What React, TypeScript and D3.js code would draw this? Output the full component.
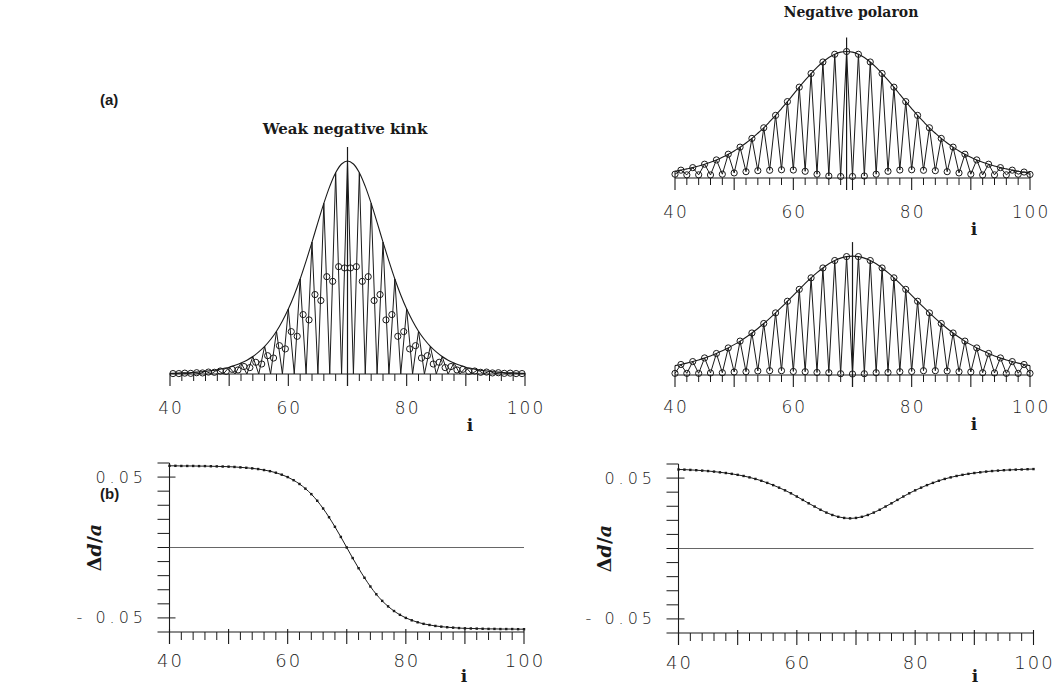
import { useEffect, useRef } from "react";
import * as d3 from "d3";

// lattice sites and bond mid-points
const SITES = d3.range(40, 101);
const BONDS = d3.range(40.5, 100, 1);

// (a) weak negative kink, charge density (arb. units, peak = 1)
const kinkEnvelope = [
  0.003, 0.004, 0.005, 0.006, 0.008, 0.010, 0.013, 0.016, 0.020, 0.026, 0.032,
  0.041, 0.052, 0.065, 0.082, 0.104, 0.130, 0.162, 0.201, 0.249, 0.305, 0.371,
  0.446, 0.530, 0.619, 0.712, 0.801, 0.881, 0.945, 0.986, 1.000, 0.986, 0.945,
  0.881, 0.801, 0.712, 0.619, 0.530, 0.446, 0.371, 0.305, 0.249, 0.201, 0.162,
  0.130, 0.104, 0.082, 0.065, 0.052, 0.041, 0.032, 0.026, 0.020, 0.016, 0.013,
  0.010, 0.008, 0.006, 0.005, 0.004, 0.003
];
const kinkSites = [
  0.003, 0.001, 0.005, 0.001, 0.008, 0.001, 0.013, 0.001, 0.020, 0.000, 0.032,
  0.000, 0.052, 0.000, 0.082, 0.000, 0.130, 0.000, 0.201, 0.000, 0.305, 0.000,
  0.446, 0.000, 0.619, 0.000, 0.801, 0.000, 0.945, 0.000, 1.000, 0.000, 0.945,
  0.000, 0.801, 0.000, 0.619, 0.000, 0.446, 0.000, 0.305, 0.000, 0.201, 0.000,
  0.130, 0.000, 0.082, 0.000, 0.052, 0.000, 0.032, 0.000, 0.020, 0.001, 0.013,
  0.001, 0.008, 0.001, 0.005, 0.001, 0.003
];
const kinkBondValues = [
  0.002, 0.002, 0.004, 0.003, 0.006, 0.005, 0.009, 0.008, 0.014, 0.012, 0.022,
  0.019, 0.035, 0.030, 0.055, 0.047, 0.086, 0.075, 0.133, 0.118, 0.199, 0.177,
  0.279, 0.254, 0.373, 0.345, 0.457, 0.435, 0.504, 0.498, 0.498, 0.504, 0.435,
  0.457, 0.345, 0.373, 0.254, 0.279, 0.177, 0.199, 0.118, 0.133, 0.075, 0.086,
  0.047, 0.055, 0.030, 0.035, 0.019, 0.022, 0.012, 0.014, 0.008, 0.009, 0.005,
  0.006, 0.003, 0.004, 0.002, 0.002
];

// (a) negative polaron, upper panel
const polaronEnvelope = [
  0.054, 0.062, 0.072, 0.082, 0.095, 0.109, 0.125, 0.143, 0.164, 0.188, 0.214,
  0.244, 0.277, 0.313, 0.354, 0.397, 0.445, 0.495, 0.549, 0.604, 0.661, 0.718,
  0.773, 0.826, 0.875, 0.917, 0.952, 0.978, 0.995, 1.000, 0.995, 0.978, 0.952,
  0.917, 0.875, 0.826, 0.773, 0.718, 0.661, 0.604, 0.549, 0.495, 0.445, 0.397,
  0.354, 0.313, 0.277, 0.244, 0.214, 0.188, 0.164, 0.143, 0.125, 0.109, 0.095,
  0.082, 0.072, 0.062, 0.054, 0.047, 0.041
];
const polaronSites = [
  0.030, 0.062, 0.025, 0.082, 0.025, 0.109, 0.024, 0.143, 0.030, 0.188, 0.040,
  0.244, 0.050, 0.313, 0.058, 0.397, 0.061, 0.495, 0.065, 0.604, 0.063, 0.718,
  0.053, 0.826, 0.030, 0.917, 0.016, 0.978, 0.012, 1.000, 0.012, 0.978, 0.016,
  0.917, 0.030, 0.826, 0.053, 0.718, 0.063, 0.604, 0.065, 0.495, 0.061, 0.397,
  0.058, 0.313, 0.050, 0.244, 0.040, 0.188, 0.030, 0.143, 0.024, 0.109, 0.025,
  0.082, 0.025, 0.062, 0.030, 0.047, 0.028
];

// (a) negative polaron, lower panel
const polaron2Envelope = [
  0.074, 0.083, 0.094, 0.106, 0.119, 0.135, 0.151, 0.170, 0.191, 0.214, 0.240,
  0.268, 0.299, 0.332, 0.368, 0.407, 0.448, 0.491, 0.536, 0.583, 0.630, 0.677,
  0.724, 0.768, 0.809, 0.846, 0.879, 0.905, 0.924, 0.936, 0.940, 0.936, 0.924,
  0.905, 0.879, 0.846, 0.809, 0.768, 0.724, 0.677, 0.630, 0.583, 0.536, 0.491,
  0.448, 0.407, 0.368, 0.332, 0.299, 0.268, 0.240, 0.214, 0.191, 0.170, 0.151,
  0.135, 0.119, 0.106, 0.094, 0.083, 0.074
];
const polaron2Sites = [
  0.013, 0.083, 0.013, 0.106, 0.013, 0.135, 0.016, 0.170, 0.018, 0.214, 0.024,
  0.268, 0.026, 0.332, 0.032, 0.407, 0.034, 0.491, 0.034, 0.583, 0.028, 0.677,
  0.026, 0.768, 0.020, 0.846, 0.018, 0.905, 0.010, 0.936, 0.008, 0.936, 0.010,
  0.905, 0.018, 0.846, 0.020, 0.768, 0.026, 0.677, 0.028, 0.583, 0.034, 0.491,
  0.034, 0.407, 0.032, 0.332, 0.026, 0.268, 0.024, 0.214, 0.018, 0.170, 0.016,
  0.135, 0.013, 0.106, 0.013, 0.083, 0.013
];

// (b) lattice dimerization  Δd/a
const kinkDimer = [
  0.0580, 0.0580, 0.0579, 0.0579, 0.0579, 0.0578, 0.0578, 0.0577, 0.0576, 0.0575,
  0.0574, 0.0572, 0.0569, 0.0566, 0.0562, 0.0557, 0.0550, 0.0542, 0.0531, 0.0517,
  0.0500, 0.0478, 0.0451, 0.0418, 0.0379, 0.0332, 0.0277, 0.0215, 0.0147, 0.0075,
  0.0000, -0.0075, -0.0147, -0.0215, -0.0277, -0.0332, -0.0379, -0.0418, -0.0451,
  -0.0478, -0.0500, -0.0517, -0.0531, -0.0542, -0.0550, -0.0557, -0.0562, -0.0566,
  -0.0569, -0.0572, -0.0574, -0.0575, -0.0576, -0.0577, -0.0578, -0.0578, -0.0579,
  -0.0579, -0.0579, -0.0580, -0.0580
];
const polaronDimer = [
  0.0561, 0.0560, 0.0558, 0.0556, 0.0553, 0.0550, 0.0546, 0.0541, 0.0536, 0.0530,
  0.0523, 0.0515, 0.0505, 0.0494, 0.0481, 0.0466, 0.0450, 0.0432, 0.0413, 0.0392,
  0.0369, 0.0345, 0.0321, 0.0298, 0.0275, 0.0255, 0.0238, 0.0225, 0.0217, 0.0214,
  0.0217, 0.0225, 0.0238, 0.0255, 0.0275, 0.0298, 0.0321, 0.0345, 0.0369, 0.0392,
  0.0413, 0.0432, 0.0450, 0.0466, 0.0481, 0.0494, 0.0505, 0.0515, 0.0523, 0.0530,
  0.0536, 0.0541, 0.0546, 0.0550, 0.0553, 0.0556, 0.0558, 0.0560, 0.0561, 0.0563,
  0.0564
];

const X_MINOR = d3.range(40, 101, 2);
const X_MAJOR = [40, 50, 60, 70, 80, 90, 100];
const X_LABELS = [40, 60, 80, 100];
const Y_TICKS = [-0.06, -0.05, -0.04, -0.03, -0.02, -0.01, 0, 0.01, 0.02, 0.03, 0.04, 0.05, 0.06];
const Y_LABELS = [0.05, -0.05];

const INK = "#1a1a1a";
const NUM_FONT = "'DejaVu Sans', sans-serif";
const SERIF = "'DejaVu Serif', serif";

type Sel = d3.Selection<SVGGElement, unknown, null, undefined>;

function xAxisTicks(g: Sel, x: d3.ScaleLinear<number, number>, base: number, minor: number, majUp: number, majDown: number) {
  g.append("line")
    .attr("x1", x(40)).attr("x2", x(100))
    .attr("y1", base).attr("y2", base)
    .attr("stroke", INK).attr("stroke-width", 1.1);
  g.selectAll(null).data(X_MINOR.filter(t => !X_MAJOR.includes(t))).enter().append("line")
    .attr("x1", d => x(d)).attr("x2", d => x(d))
    .attr("y1", base).attr("y2", base + minor)
    .attr("stroke", INK).attr("stroke-width", 1);
  g.selectAll(null).data(X_MAJOR).enter().append("line")
    .attr("x1", d => x(d)).attr("x2", d => x(d))
    .attr("y1", base - majUp).attr("y2", base + majDown)
    .attr("stroke", INK).attr("stroke-width", 1.1);
}

function xLabels(g: Sel, x: d3.ScaleLinear<number, number>, y: number, size: number, iPos: [number, number]) {
  g.selectAll(null).data(X_LABELS).enter().append("text")
    .attr("x", d => x(d) + 1).attr("y", y)
    .attr("text-anchor", "middle")
    .style("font-family", NUM_FONT).style("font-size", `${size}px`)
    .style("font-weight", "200").style("letter-spacing", "2px")
    .attr("fill", "#222")
    .text(d => d);
  g.append("text")
    .attr("x", iPos[0]).attr("y", iPos[1])
    .attr("text-anchor", "middle")
    .style("font-family", SERIF).style("font-size", "17px").style("font-weight", "bold")
    .attr("fill", INK).text("i");
}

interface DensityOpts {
  left: number; right: number; base: number; unit: number;
  envelope: number[]; sites: number[];
  markX: number[]; markY: number[];
  center: number; labelY: number; iPos: [number, number];
}

function densityPanel(g: Sel, o: DensityOpts) {
  const x = d3.scaleLinear().domain([40, 100]).range([o.left, o.right]);
  const y = d3.scaleLinear().domain([0, 1]).range([o.base, o.base - o.unit]);

  xAxisTicks(g, x, o.base, 7, 0, 12);

  // end ticks rise to the curve
  g.selectAll(null).data([0, SITES.length - 1]).enter().append("line")
    .attr("x1", d => x(SITES[d])).attr("x2", d => x(SITES[d]))
    .attr("y1", d => y(o.envelope[d])).attr("y2", o.base)
    .attr("stroke", INK).attr("stroke-width", 1);

  const env = d3.line<number>()
    .x((d, i) => x(SITES[i]))
    .y(d => y(d))
    .curve(d3.curveCatmullRom);
  g.append("path").datum(o.envelope)
    .attr("d", env).attr("fill", "none")
    .attr("stroke", INK).attr("stroke-width", 1.1);

  const zig = d3.line<number>()
    .x((d, i) => x(SITES[i]))
    .y(d => y(d));
  g.append("path").datum(o.sites)
    .attr("d", zig).attr("fill", "none")
    .attr("stroke", INK).attr("stroke-width", 1);

  g.selectAll(null).data(o.markX).enter().append("circle")
    .attr("cx", d => x(d)).attr("cy", (d, i) => y(o.markY[i]))
    .attr("r", 3.1)
    .attr("fill", "none").attr("stroke", INK).attr("stroke-width", 1);

  const peak = d3.max(o.envelope) || 1;
  g.append("line")
    .attr("x1", x(o.center)).attr("x2", x(o.center))
    .attr("y1", o.base + 12).attr("y2", y(peak) - 14)
    .attr("stroke", INK).attr("stroke-width", 1.2);

  xLabels(g, x, o.labelY, 17, o.iPos);
}

interface DimerOpts {
  left: number; right: number; top: number; bottom: number;
  values: number[]; labelX: number; titleX: number; labelY: number; iPos: [number, number];
}

function dimerPanel(g: Sel, o: DimerOpts) {
  const x = d3.scaleLinear().domain([40, 100]).range([o.left, o.right]);
  const y = d3.scaleLinear().domain([-0.06, 0.06]).range([o.bottom, o.top]);

  // y axis
  g.append("line")
    .attr("x1", x(40)).attr("x2", x(40))
    .attr("y1", y(0.06)).attr("y2", y(-0.06) + 12)
    .attr("stroke", INK).attr("stroke-width", 1.1);
  g.selectAll(null).data(Y_TICKS).enter().append("line")
    .attr("x1", x(40) - 12)
    .attr("x2", d => (Y_LABELS.includes(d) ? x(40) + 6 : x(40)))
    .attr("y1", d => y(d)).attr("y2", d => y(d))
    .attr("stroke", INK).attr("stroke-width", 1);

  xAxisTicks(g, x, y(-0.06), 8, 3, 12);

  // zero line
  g.append("line")
    .attr("x1", x(40)).attr("x2", x(100))
    .attr("y1", y(0)).attr("y2", y(0))
    .attr("stroke", "#555").attr("stroke-width", 0.9);

  const line = d3.line<number>()
    .x((d, i) => x(SITES[i]))
    .y(d => y(d))
    .curve(d3.curveMonotoneX);
  g.append("path").datum(o.values)
    .attr("d", line).attr("fill", "none")
    .attr("stroke", INK).attr("stroke-width", 1);

  g.selectAll(null).data(o.values).enter().append("rect")
    .attr("x", (d, i) => x(SITES[i]) - 1.2).attr("y", d => y(d) - 1.2)
    .attr("width", 2.4).attr("height", 2.4)
    .attr("fill", INK);

  g.selectAll(null).data(Y_LABELS).enter().append("text")
    .attr("x", o.labelX).attr("y", d => y(d) + 5.5)
    .attr("text-anchor", "end")
    .style("font-family", NUM_FONT).style("font-size", "16px")
    .style("font-weight", "200").style("letter-spacing", "4px")
    .attr("fill", "#222")
    .text(d => (d < 0 ? "- " : "") + Math.abs(d).toFixed(2));

  const t = g.append("text")
    .attr("transform", `translate(${o.titleX}, ${y(0)}) rotate(-90)`)
    .attr("text-anchor", "middle")
    .style("font-family", SERIF).style("font-size", "19px").style("font-weight", "bold")
    .attr("fill", INK);
  t.append("tspan").text("Δ");
  t.append("tspan").style("font-style", "italic").text("d");
  t.append("tspan").text("/");
  t.append("tspan").style("font-style", "italic").text("a");

  xLabels(g, x, o.labelY, 18, o.iPos);
}

export default function App() {
  const ref = useRef<SVGSVGElement | null>(null);

  useEffect(() => {
    if (!ref.current) return;
    const svg = d3.select(ref.current);
    svg.selectAll("*").remove();
    const root = svg.append("g") as unknown as Sel;

    root.append("rect").attr("width", 1054).attr("height", 687).attr("fill", "#fff");

    densityPanel(root.append("g"), {
      left: 170, right: 525, base: 374, unit: 213,
      envelope: kinkEnvelope, sites: kinkSites,
      markX: BONDS, markY: kinkBondValues,
      center: 70, labelY: 414, iPos: [470, 431]
    });
    densityPanel(root.append("g"), {
      left: 675, right: 1030, base: 178, unit: 126.5,
      envelope: polaronEnvelope, sites: polaronSites,
      markX: SITES, markY: polaronSites,
      center: 69, labelY: 218, iPos: [974, 235]
    });
    densityPanel(root.append("g"), {
      left: 675, right: 1030, base: 375, unit: 126.5,
      envelope: polaron2Envelope, sites: polaron2Sites,
      markX: SITES, markY: polaron2Sites,
      center: 70, labelY: 413, iPos: [974, 430]
    });

    dimerPanel(root.append("g"), {
      left: 169.5, right: 524, top: 463, bottom: 632,
      values: kinkDimer, labelX: 147, titleX: 101, labelY: 667, iPos: [464, 682]
    });
    dimerPanel(root.append("g"), {
      left: 678.5, right: 1033.5, top: 464, bottom: 633,
      values: polaronDimer, labelX: 656, titleX: 611, labelY: 669, iPos: [975, 682]
    });

    // titles and panel letters
    root.append("text")
      .attr("x", 345).attr("y", 134).attr("text-anchor", "middle")
      .style("font-family", SERIF).style("font-size", "15px").style("font-weight", "bold")
      .attr("fill", INK).text("Weak negative kink");
    root.append("text")
      .attr("x", 851).attr("y", 17).attr("text-anchor", "middle")
      .style("font-family", SERIF).style("font-size", "14px").style("font-weight", "bold")
      .attr("fill", INK).text("Negative polaron");
    root.selectAll(null).data([["(a)", 105], ["(b)", 499]]).enter().append("text")
      .attr("x", 100).attr("y", d => d[1] as number)
      .style("font-family", "'Liberation Sans', Arial, sans-serif")
      .style("font-size", "15px").style("font-weight", "bold")
      .attr("fill", INK).text(d => d[0] as string);
  }, []);

  return (
    <svg
      ref={ref}
      width={1054}
      height={687}
      style={{ position: "absolute", left: 0, top: 0, background: "#fff" }}
    />
  );
}
